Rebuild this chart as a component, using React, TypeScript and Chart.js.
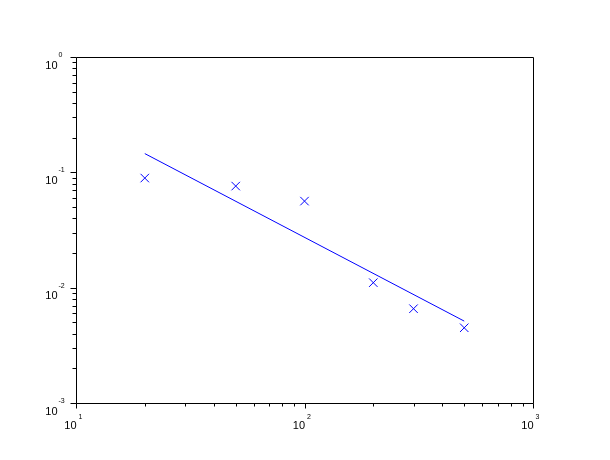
import React, { useEffect, useRef } from "react";
import { Chart, registerables } from "chart.js";

Chart.register(...registerables);

// Measured samples (x markers)
const sampleX = [20, 50, 100, 200, 300, 500];
const sampleY = [0.0892, 0.076, 0.0563, 0.01105, 0.00657, 0.00449];
// Fitted line end points
const fitX = [20, 500];
const fitY = [0.1454, 0.00513];
// Axis decades (exponents of 10)
const xExponents = [1, 2, 3];
const yExponents = [0, -1, -2, -3];

const xMin = Math.pow(10, Math.min(...xExponents));
const xMax = Math.pow(10, Math.max(...xExponents));
const yMin = Math.pow(10, Math.min(...yExponents));
const yMax = Math.pow(10, Math.max(...yExponents));

const axesPlugin = {
  id: "scilabAxes",
  afterDraw(chart: any) {
    const ctx = chart.ctx as CanvasRenderingContext2D;
    const { left, right, top, bottom } = chart.chartArea;
    const xs = chart.scales.x;
    const ys = chart.scales.y;
    const L = Math.round(left) + 0.5;
    const R = Math.round(right) + 0.5;
    const T = Math.round(top) + 0.5;
    const B = Math.round(bottom) + 0.5;
    ctx.save();
    ctx.strokeStyle = "#000";
    ctx.lineWidth = 1;
    ctx.beginPath();
    ctx.moveTo(L, T);
    ctx.lineTo(R, T);
    ctx.lineTo(R, B);
    ctx.lineTo(L, B);
    ctx.closePath();
    ctx.stroke();

    // x ticks
    const xe0 = Math.min(...xExponents);
    const xe1 = Math.max(...xExponents);
    ctx.beginPath();
    for (let e = xe0; e <= xe1; e++) {
      for (let m = 1; m <= 9; m++) {
        if (e === xe1 && m > 1) break;
        const v = m * Math.pow(10, e);
        const px = Math.round(xs.getPixelForValue(v)) + 0.5;
        const len = m === 1 ? 5 : 3;
        ctx.moveTo(px, B);
        ctx.lineTo(px, B + len);
      }
    }
    // y ticks
    const ye0 = Math.min(...yExponents);
    const ye1 = Math.max(...yExponents);
    for (let e = ye0; e <= ye1; e++) {
      for (let m = 1; m <= 9; m++) {
        if (e === ye1 && m > 1) break;
        const v = m * Math.pow(10, e);
        const py = Math.round(ys.getPixelForValue(v)) + 0.5;
        const len = m === 1 ? 6 : 4;
        ctx.moveTo(L, py);
        ctx.lineTo(L - len, py);
      }
    }
    ctx.stroke();

    // labels
    ctx.fillStyle = "#000";
    ctx.textBaseline = "alphabetic";
    const baseFont = "11px 'Liberation Sans', Arial, sans-serif";
    const expFont = "7px 'Liberation Sans', Arial, sans-serif";
    for (const e of xExponents) {
      const px = xs.getPixelForValue(Math.pow(10, e));
      ctx.font = baseFont;
      ctx.textAlign = "right";
      ctx.fillText("10", px + 0.5, B + 25.5);
      ctx.font = expFont;
      ctx.textAlign = "left";
      ctx.fillText(String(e), px + 2.5, B + 15);
    }
    for (const e of yExponents) {
      const py = ys.getPixelForValue(Math.pow(10, e));
      ctx.font = baseFont;
      ctx.textAlign = "right";
      ctx.fillText("10", L - 19, py + 11.5);
      ctx.font = expFont;
      ctx.textAlign = "left";
      ctx.fillText(e < 0 ? "-" + String(-e) : String(e), L - 18, py);
    }
    ctx.restore();
  },
};

export default function App() {
  const ref = useRef<HTMLCanvasElement | null>(null);
  useEffect(() => {
    if (!ref.current) return;
    const chart = new Chart(ref.current, {
      type: "scatter",
      data: {
        datasets: [
          {
            label: "fit",
            data: fitX.map((x, i) => ({ x, y: fitY[i] })),
            showLine: true,
            borderColor: "#0000ff",
            borderWidth: 1,
            pointRadius: 0,
            fill: false,
          },
          {
            label: "samples",
            data: sampleX.map((x, i) => ({ x, y: sampleY[i] })),
            showLine: false,
            pointStyle: "crossRot",
            pointRadius: 6,
            borderColor: "#0000ff",
            backgroundColor: "#0000ff",
            pointBorderWidth: 1,
          },
        ],
      },
      options: {
        responsive: false,
        animation: false,
        devicePixelRatio: 1,
        layout: { padding: { left: 76, top: 57, right: 77, bottom: 57 } },
        plugins: { legend: { display: false }, tooltip: { enabled: false } },
        scales: {
          x: { type: "logarithmic", min: xMin, max: xMax, display: false },
          y: { type: "logarithmic", min: yMin, max: yMax, display: false },
        },
      },
      plugins: [axesPlugin],
    });
    return () => chart.destroy();
  }, []);
  return (
    <div style={{ position: "absolute", left: 0, top: 0, width: 610, height: 460, background: "#fff" }}>
      <canvas ref={ref} width={610} height={460} />
    </div>
  );
}
